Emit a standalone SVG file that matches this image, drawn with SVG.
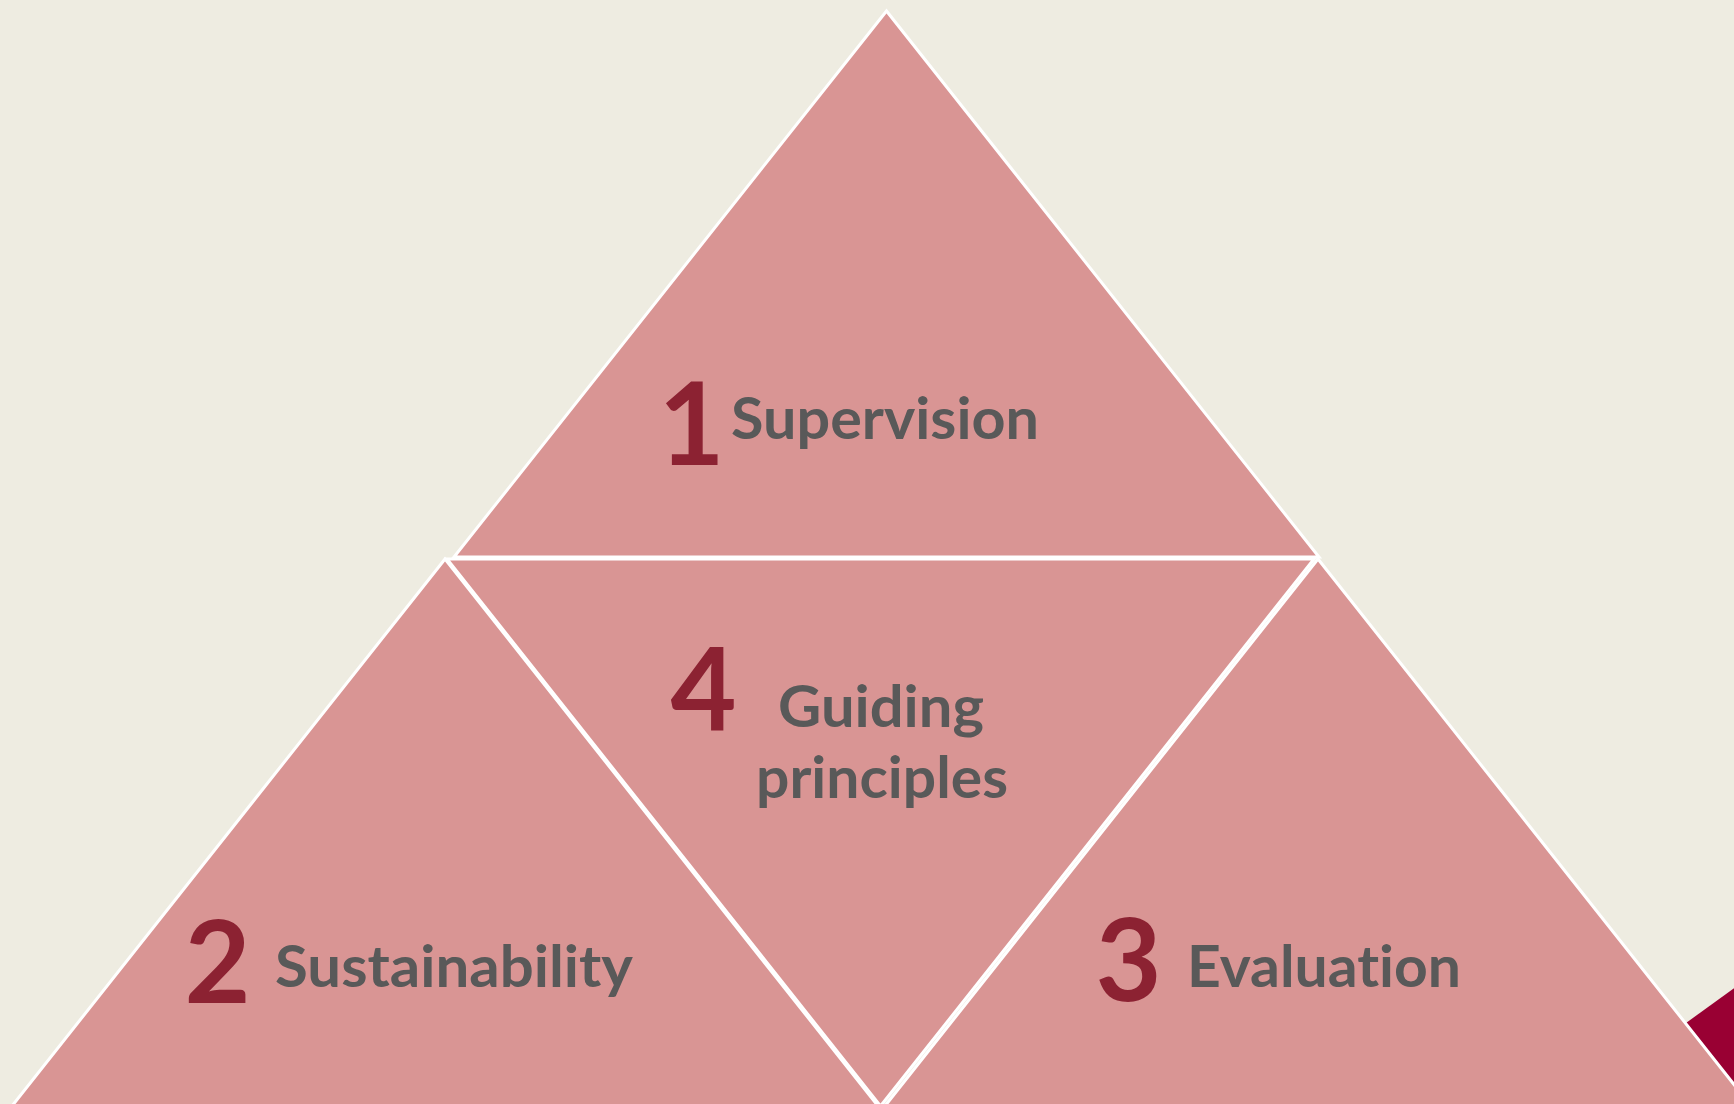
<svg xmlns="http://www.w3.org/2000/svg" width="1734" height="1104" viewBox="0 0 1734 1104">
<style>
.tri{fill:#D99594;stroke:#FFFFFF;stroke-width:3;stroke-linejoin:miter}
.num{font-family:Lato,"Liberation Sans",Arial,sans-serif;font-weight:bold;font-size:114px;fill:#8C2232;text-anchor:middle}
.lbl{font-family:Lato,"Liberation Sans",Arial,sans-serif;font-weight:bold;font-size:58px;fill:#595959;font-variant-ligatures:none;font-feature-settings:"liga" 0,"clig" 0,"dlig" 0}
</style>
<rect x="0" y="0" width="1734" height="1104" fill="#EEECE1"/>
<g id="accent">
<polygon points="1686,1023 1748,978 1748,1104 1686,1104" fill="#990033"/>
</g>
<g id="node-1-supervision">
<polygon class="tri" points="886.5,11 454,557 1319,557"/>
<text class="num" x="691.5" y="465">1</text>
<text class="lbl" x="731" y="439" textLength="308" lengthAdjust="spacingAndGlyphs">Supervision</text>
</g>
<g id="node-2-sustainability">
<polygon class="tri" points="445,559 12,1106 878,1106"/>
<text class="num" x="217.5" y="1003">2</text>
<text class="lbl" x="275" y="987" textLength="358" lengthAdjust="spacingAndGlyphs">Sustainability</text>
</g>
<g id="node-3-evaluation">
<polygon class="tri" points="1318,559 885,1106 1751,1106"/>
<text class="num" x="1128.5" y="1001">3</text>
<text class="lbl" x="1187" y="987" textLength="274" lengthAdjust="spacingAndGlyphs">Evaluation</text>
</g>
<g id="node-4-guiding-principles">
<polygon class="tri" points="447,559 1314,559 880.5,1106"/>
<text class="num" x="703.5" y="730">4</text>
<text class="lbl" x="778" y="727" textLength="206" lengthAdjust="spacingAndGlyphs">Guiding</text>
<text class="lbl" x="756" y="798" textLength="252" lengthAdjust="spacingAndGlyphs">principles</text>
</g>
<g id="connectors"></g>
</svg>
